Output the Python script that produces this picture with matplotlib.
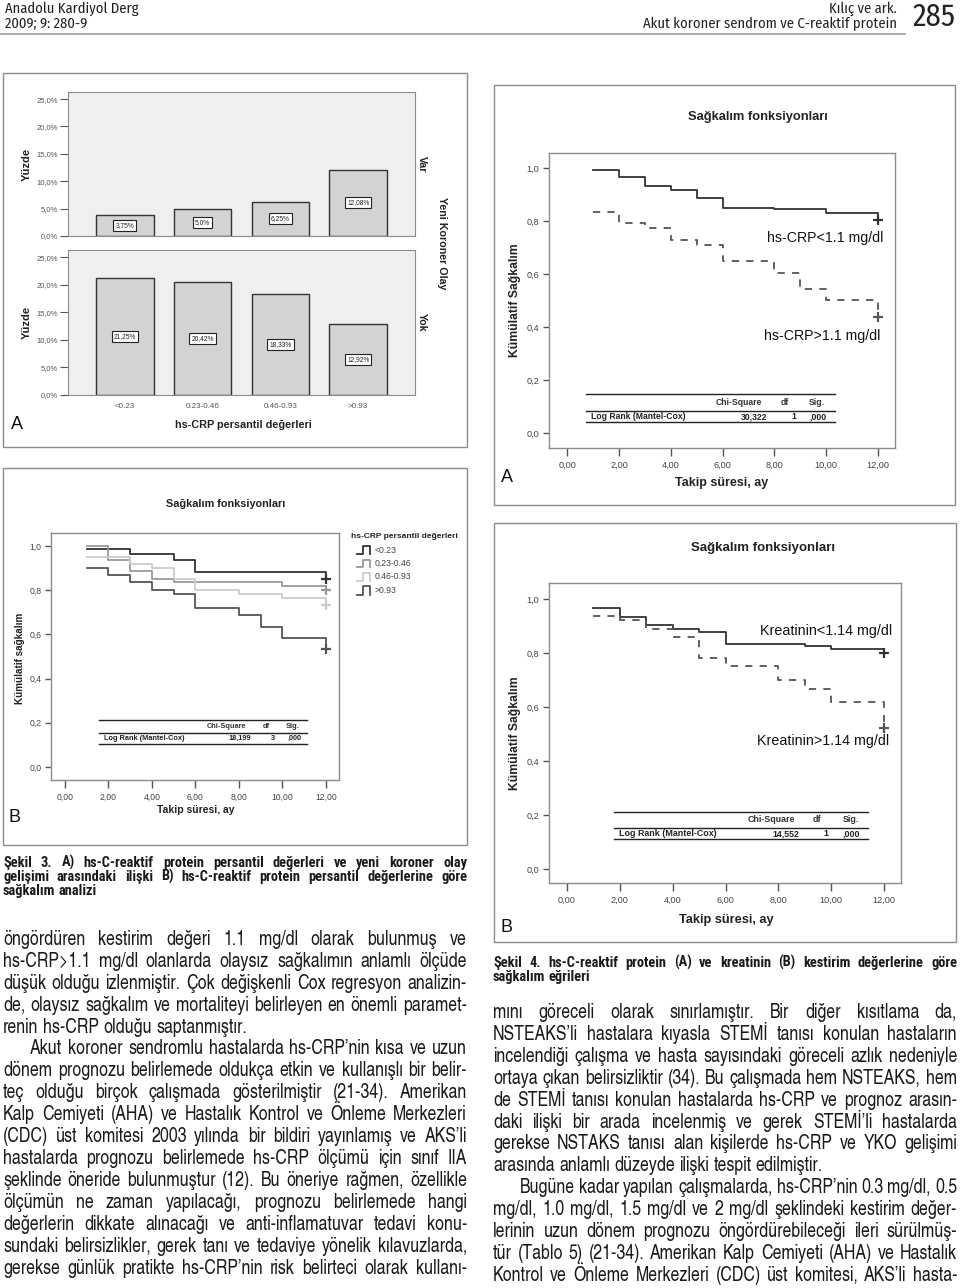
import matplotlib
matplotlib.use("Agg")
import matplotlib.pyplot as plt
from matplotlib.patches import Rectangle
from matplotlib.lines import Line2D
from matplotlib.font_manager import FontProperties

plt.rcParams['font.family'] = ['Liberation Sans', 'DejaVu Sans']

# --- data: Şekil 3A (bar chart) ---
categories = ["<0.23", "0.23-0.46", "0.46-0.93", ">0.93"]
var_pct = [3.75, 5.0, 6.25, 12.08]
yok_pct = [21.25, 20.42, 18.33, 12.92]

# --- data: Şekil 4A (hs-CRP cut-off) ---
crp_low_t = [1, 2, 3, 4, 5, 6, 8, 10, 12]
crp_low_s = [0.991, 0.965, 0.933, 0.917, 0.886, 0.851, 0.846, 0.829, 0.803]
crp_high_t = [1, 2, 3, 4, 5, 6, 8, 9, 10, 12]
crp_high_s = [0.836, 0.792, 0.774, 0.730, 0.711, 0.648, 0.604, 0.543, 0.501, 0.436]

# --- data: Şekil 3B (hs-CRP percentiles) ---
q_labels = ["<0.23", "0.23-0.46", "0.46-0.93", ">0.93"]
q1_t = [1, 3, 5, 6, 12]
q1_s = [0.986, 0.966, 0.935, 0.884, 0.850]
q2_t = [1, 2, 3, 4, 5, 10, 12]
q2_s = [1.0, 0.937, 0.889, 0.852, 0.836, 0.819, 0.803]
q3_t = [1, 3, 4, 5, 6, 8, 10, 12]
q3_s = [0.951, 0.917, 0.899, 0.852, 0.801, 0.783, 0.766, 0.731]
q4_t = [1, 2, 3, 4, 5, 6, 8, 9, 10, 12]
q4_s = [0.901, 0.869, 0.835, 0.801, 0.785, 0.720, 0.686, 0.634, 0.583, 0.532]

# --- data: Şekil 4B (kreatinin cut-off) ---
kre_low_t = [1, 2, 3, 4, 5, 6, 9, 10, 12]
kre_low_s = [0.968, 0.933, 0.905, 0.889, 0.877, 0.832, 0.826, 0.816, 0.798]
kre_high_t = [1, 2, 3, 4, 5, 6, 8, 9, 10, 12]
kre_high_s = [0.937, 0.923, 0.890, 0.859, 0.781, 0.751, 0.699, 0.668, 0.619, 0.521]

# log rank tables: chi-square, df, sig
lr_4a = ["30,322", "1", ",000"]
lr_3b = ["18,199", "3", ",000"]
lr_4b = ["14,552", "1", ",000"]

# --- page text ---
cap3 = ["Şekil 3. A) hs-C-reaktif protein persantil değerleri ve yeni koroner olay",
        "gelişimi arasındaki ilişki B) hs-C-reaktif protein persantil değerlerine göre",
        "sağkalım analizi"]
cap4 = ["Şekil 4. hs-C-reaktif protein (A) ve kreatinin (B) kestirim değerlerine göre",
        "sağkalım eğrileri"]
left_text = [
    "öngördüren kestirim değeri 1.1 mg/dl olarak bulunmuş ve",
    "hs-CRP>1.1 mg/dl olanlarda olaysız sağkalımın anlamlı ölçüde",
    "düşük olduğu izlenmiştir. Çok değişkenli Cox regresyon analizin-",
    "de, olaysız sağkalım ve mortaliteyi belirleyen en önemli paramet-",
    "renin hs-CRP olduğu saptanmıştır.",
    "Akut koroner sendromlu hastalarda hs-CRP’nin kısa ve uzun",
    "dönem prognozu belirlemede oldukça etkin ve kullanışlı bir belir-",
    "teç olduğu birçok çalışmada gösterilmiştir (21-34). Amerikan",
    "Kalp Cemiyeti (AHA) ve Hastalık Kontrol ve Önleme Merkezleri",
    "(CDC) üst komitesi 2003 yılında bir bildiri yayınlamış ve AKS’li",
    "hastalarda prognozu belirlemede hs-CRP ölçümü için sınıf IIA",
    "şeklinde öneride bulunmuştur (12). Bu öneriye rağmen, özellikle",
    "ölçümün ne zaman yapılacağı, prognozu belirlemede hangi",
    "değerlerin dikkate alınacağı ve anti-inflamatuvar tedavi konu-",
    "sundaki belirsizlikler, gerek tanı ve tedaviye yönelik kılavuzlarda,",
    "gerekse günlük pratikte hs-CRP’nin risk belirteci olarak kullanı-",
]
right_text = [
    "mını göreceli olarak sınırlamıştır. Bir diğer kısıtlama da,",
    "NSTEAKS’li hastalara kıyasla STEMİ tanısı konulan hastaların",
    "incelendiği çalışma ve hasta sayısındaki göreceli azlık nedeniyle",
    "ortaya çıkan belirsizliktir (34). Bu çalışmada hem NSTEAKS, hem",
    "de STEMİ tanısı konulan hastalarda hs-CRP ve prognoz arasın-",
    "daki ilişki bir arada incelenmiş ve gerek STEMİ’li hastalarda",
    "gerekse NSTAKS tanısı alan kişilerde hs-CRP ve YKO gelişimi",
    "arasında anlamlı düzeyde ilişki tespit edilmiştir.",
    "Bugüne kadar yapılan çalışmalarda, hs-CRP’nin 0.3 mg/dl, 0.5",
    "mg/dl, 1.0 mg/dl, 1.5 mg/dl ve 2 mg/dl şeklindeki kestirim değer-",
    "lerinin uzun dönem prognozu öngördürebileceği ileri sürülmüş-",
    "tür (Tablo 5) (21-34). Amerikan Kalp Cemiyeti (AHA) ve Hastalık",
    "Kontrol ve Önleme Merkezleri (CDC) üst komitesi, AKS’li hasta-",
]

W, H = 960, 1288
fig = plt.figure(figsize=(W / 100, H / 100), dpi=100)
fig.patch.set_facecolor('white')
renderer = fig.canvas.get_renderer()

BODY = 'TeX Gyre Heros Cn'
CAPF = 'Roboto Condensed'
HEAD = 'Fira Sans Condensed'
GRAY = '#8c8c8c'


def ftext(x, y, s, **kw):
    return fig.text(x / W, 1 - y / H, s, **kw)


def add_ax(x0, y0, x1, y1):
    return fig.add_axes([x0 / W, 1 - y1 / H, (x1 - x0) / W, (y1 - y0) / H])


def hline(x0, x1, y, color='#222', lw=1.0):
    fig.add_artist(Line2D([x0 / W, x1 / W], [1 - y / H, 1 - y / H],
                          transform=fig.transFigure, color=color, lw=lw))


def frame(x0, y0, x1, y1):
    fig.add_artist(Rectangle((x0 / W, 1 - y1 / H), (x1 - x0) / W, (y1 - y0) / H,
                             transform=fig.transFigure, fill=False, ec=GRAY, lw=1.0))


def comma(v, nd):
    return f"{v:.{nd}f}".replace('.', ',')


def justify(lines, x0, x1, y0, dy, fs, family=BODY, weight='normal', last=(), indent=(), ind=27):
    # word-by-word justified text
    prop = FontProperties(family=family, size=fs, weight=weight)
    wa = renderer.get_text_width_height_descent("a a", prop, ismath=False)[0]
    wb = renderer.get_text_width_height_descent("aa", prop, ismath=False)[0]
    space = wa - wb
    for i, line in enumerate(lines):
        base = y0 + i * dy
        words = line.split(' ')
        widths = [renderer.get_text_width_height_descent(w, prop, ismath=False)[0] for w in words]
        start = x0 + (ind if i in indent else 0)
        if i in last or len(words) == 1:
            gap = space
        else:
            gap = (x1 - start - sum(widths)) / (len(words) - 1)
        x = start
        for w, wd in zip(words, widths):
            ftext(x, base, w, fontproperties=prop, va='baseline', ha='left', color='#1a1a1a')
            x += wd + gap


def km_axes(box, xlim, ylim, fs):
    ax = add_ax(*box)
    ax.set_xlim(*xlim)
    ax.set_ylim(*ylim)
    xt = list(range(0, 13, 2))
    ax.set_xticks(xt)
    ax.set_xticklabels([comma(v, 2) for v in xt])
    yt = [0, 0.2, 0.4, 0.6, 0.8, 1.0]
    ax.set_yticks(yt)
    ax.set_yticklabels([comma(v, 1) for v in yt])
    for s in ax.spines.values():
        s.set_color(GRAY)
        s.set_linewidth(1.0)
    ax.tick_params(axis='x', direction='out', length=6, width=1, color='#555',
                   labelsize=fs, labelcolor='#444', pad=3)
    ax.tick_params(axis='y', direction='out', length=4, width=1, color='#555',
                   labelsize=fs, labelcolor='#444', pad=3)
    return ax


def km_curve(ax, t, s, color, ls='-'):
    ax.step(t, s, where='post', color=color, lw=1.3, linestyle=ls)
    ax.plot(t[-1], s[-1], marker='+', color=color, ms=7, mew=1.6, linestyle='none')


def lr_table(x0, x1, ytop, ymid, ybot, hx, vals, vx, fs):
    hline(x0, x1, ytop, '#222', 1.0)
    hline(x0, x1, ymid, '#222', 1.0)
    hline(x0, x1, ybot, '#222', 1.0)
    yh = (ytop + ymid) / 2
    yr = (ymid + ybot) / 2
    for label, x in zip(["Chi-Square", "df", "Sig."], hx):
        ftext(x, yh, label, fontsize=fs, weight='bold', ha='center', va='center', color='#333')
    ftext(x0 + 5, yr, "Log Rank (Mantel-Cox)", fontsize=fs, weight='bold', ha='left', va='center', color='#222')
    for v, x in zip(vals, vx):
        ftext(x, yr, v, fontsize=fs, weight='bold', ha='right', va='center', color='#222')


# ---------------- header ----------------
ftext(5, 9, "Anadolu Kardiyol Derg", family=HEAD, fontsize=10.5, va='center', color='#222')
ftext(5, 24, "2009; 9: 280-9", family=HEAD, fontsize=10.5, va='center', color='#222')
ftext(897, 9, "Kılıç ve ark.", family=HEAD, fontsize=10.5, va='center', ha='right', color='#222')
ftext(897, 24, "Akut koroner sendrom ve C-reaktif protein", family=HEAD, fontsize=10.5,
      va='center', ha='right', color='#222')
ftext(956, 17, "285", family=HEAD, fontsize=22, va='center', ha='right', color='#222')
hline(0, 905, 34, '#9a9a9a', 1.2)

# ---------------- Şekil 3A: bar chart ----------------
frame(3, 73, 467, 447)
yt_bar = [0, 5, 10, 15, 20, 25]
xpos = list(range(len(categories)))
for box, vals, side in [((68, 92, 415, 236), var_pct, "Var"), ((68, 250, 415, 395), yok_pct, "Yok")]:
    ax = add_ax(*box)
    ax.set_facecolor('#efefef')
    ax.bar(xpos, vals, width=0.74, color='#d3d3d3', edgecolor='#333', lw=1.0)
    for i, v in enumerate(vals):
        lab = f"{v:.2f}".rstrip('0')
        lab = (lab + '0' if lab.endswith('.') else lab).replace('.', ',') + '%'
        ax.text(i, v / 2, lab, ha='center', va='center', fontsize=4.8, color='#222',
                bbox=dict(boxstyle='square,pad=0.3', fc='white', ec='#222', lw=0.8))
    ax.set_xlim(-0.73, 3.73)
    ax.set_ylim(0, 26.3)
    ax.set_yticks(yt_bar)
    ax.set_yticklabels([comma(v, 1) + '%' for v in yt_bar])
    for s in ax.spines.values():
        s.set_color(GRAY)
    ax.tick_params(axis='y', length=6, color='#555', labelsize=5.5, labelcolor='#555', pad=1)
    ax.set_xticks(xpos)
    if side == "Var":
        ax.tick_params(axis='x', length=0, labelbottom=False)
    else:
        ax.set_xticklabels(categories)
        ax.tick_params(axis='x', length=0, labelsize=5.8, labelcolor='#555', pad=6)
    yc = (box[1] + box[3]) / 2
    ftext(27, yc, "Yüzde", fontsize=8.1, weight='bold', rotation=90, ha='center', va='center', color='#222')
    ftext(422, yc, side, fontsize=7.6, weight='bold', rotation=-90, ha='center', va='center', color='#222')
ftext(442, 243, "Yeni Koroner Olay", fontsize=7.7, weight='bold', rotation=-90, ha='center', va='center', color='#222')
ftext(243, 425, "hs-CRP persantil değerleri", fontsize=7.8, weight='bold', ha='center', va='center', color='#222')
ftext(17, 424, "A", fontsize=13, ha='center', va='center', color='#111')

# ---------------- Şekil 4A ----------------
frame(494, 85, 955, 505)
ftext(758, 117, "Sağkalım fonksiyonları", fontsize=9.3, weight='bold', ha='center', va='center', color='#222')
ax = km_axes((549, 153, 895, 448), (-0.7, 12.65), (-0.057, 1.057), 6.6)
km_curve(ax, crp_low_t, crp_low_s, '#333')
km_curve(ax, crp_high_t, crp_high_s, '#555', ls=(0, (4, 4)))
ftext(883, 238, "hs-CRP<1.1 mg/dl", fontsize=10.2, ha='right', va='center', color='#111')
ftext(880, 336, "hs-CRP>1.1 mg/dl", fontsize=10.2, ha='right', va='center', color='#111')
lr_table(586, 835, 394, 411, 422, [739, 785, 817], lr_4a, [767, 796, 827], 6.2)
ftext(515, 300, "Kümülatif Sağkalım", fontsize=8.7, weight='bold', rotation=90, ha='center', va='center', color='#222')
ftext(722, 483, "Takip süresi, ay", fontsize=9, weight='bold', ha='center', va='center', color='#222')
ftext(507, 477, "A", fontsize=13, ha='center', va='center', color='#111')

# ---------------- Şekil 3B ----------------
frame(3, 468, 467, 845)
ftext(226, 504, "Sağkalım fonksiyonları", fontsize=7.8, weight='bold', ha='center', va='center', color='#222')
ax = km_axes((51, 533, 339, 780), (-0.64, 12.6), (-0.059, 1.059), 6.2)
q_colors = ['#333333', '#999999', '#cccccc', '#555555']
for t, s, c in zip([q1_t, q2_t, q3_t, q4_t], [q1_s, q2_s, q3_s, q4_s], q_colors):
    km_curve(ax, t, s, c)
lr_table(99, 307, 720, 733, 744, [227, 266, 293], lr_3b, [251, 275, 302], 5.3)
ftext(20, 658, "Kümülatif sağkalım", fontsize=7.1, weight='bold', rotation=90, ha='center', va='center', color='#222')
ftext(196, 810, "Takip süresi, ay", fontsize=7.5, weight='bold', ha='center', va='center', color='#222')
ftext(15, 818, "B", fontsize=13, ha='center', va='center', color='#111')
ftext(351, 537, "hs-CRP persantil değerleri", fontsize=6, weight='bold', ha='left', va='center', color='#222')
for k, (lab, c) in enumerate(zip(q_labels, q_colors)):
    yc = 550 + k * 13.5
    xs = [357, 363, 363, 370, 370]
    ys = [yc + 4, yc + 4, yc - 4, yc - 4, yc + 4]
    fig.add_artist(Line2D([x / W for x in xs], [1 - y / H for y in ys], transform=fig.transFigure,
                          color=c, lw=1.3))
    ftext(375, yc, lab, fontsize=6.2, ha='left', va='center', color='#444')

# ---------------- Şekil 4B ----------------
frame(494, 523, 956, 942)
ftext(763, 548, "Sağkalım fonksiyonları", fontsize=9.5, weight='bold', ha='center', va='center', color='#222')
ax = km_axes((549, 583, 901, 883), (-0.68, 12.64), (-0.052, 1.059), 6.6)
km_curve(ax, kre_low_t, kre_low_s, '#333')
km_curve(ax, kre_high_t, kre_high_s, '#555', ls=(0, (4, 4)))
ftext(892, 631, "Kreatinin<1.14 mg/dl", fontsize=10.3, ha='right', va='center', color='#111')
ftext(889, 741, "Kreatinin>1.14 mg/dl", fontsize=10.3, ha='right', va='center', color='#111')
lr_table(614, 868, 812, 828, 839, [771, 817, 851], lr_4b, [799, 828, 860], 6.4)
ftext(515, 733, "Kümülatif Sağkalım", fontsize=8.7, weight='bold', rotation=90, ha='center', va='center', color='#222')
ftext(726, 920, "Takip süresi, ay", fontsize=9.2, weight='bold', ha='center', va='center', color='#222')
ftext(507, 927, "B", fontsize=13, ha='center', va='center', color='#111')

# ---------------- captions and body text ----------------
justify(cap3, 3, 467, 867, 14, 10.4, family=CAPF, weight='bold', last=(2,))
justify(cap4, 493, 957, 967, 14, 10.4, family=CAPF, weight='bold', last=(1,))
justify(left_text, 3, 467, 945, 21.9, 14, last=(4,), indent=(5,))
justify(right_text, 493, 957, 1018, 21.9, 14, last=(7,), indent=(8,))

fig.savefig("out.png", dpi=100, facecolor='white')
